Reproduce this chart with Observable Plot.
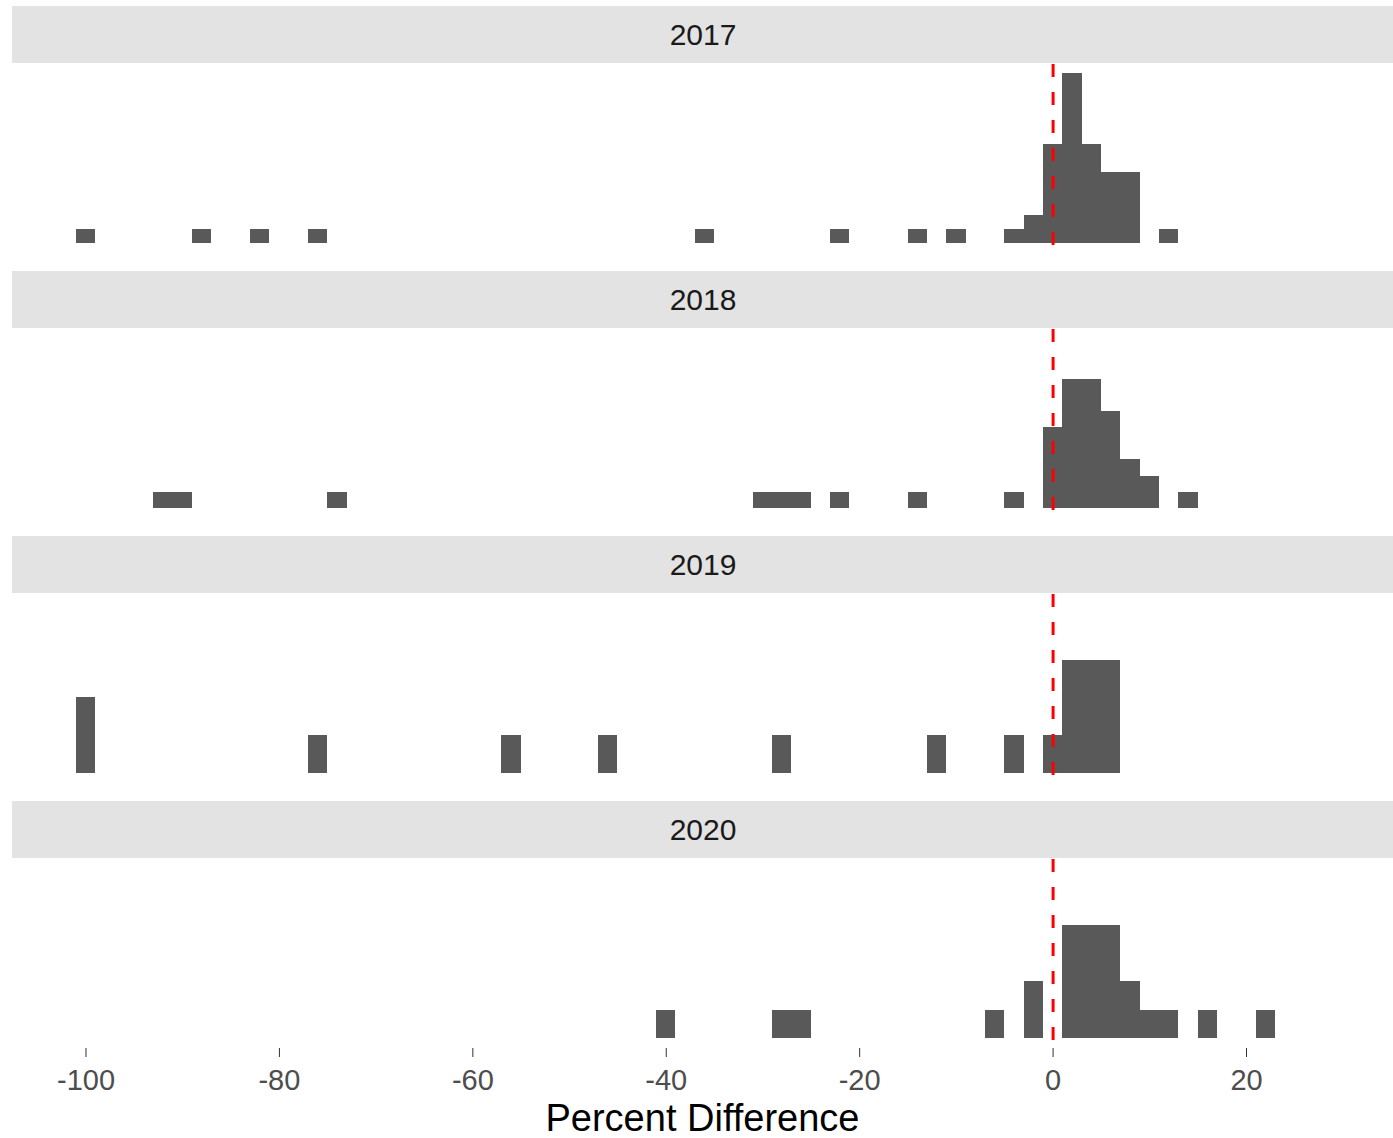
<!DOCTYPE html>
<html>
<head>
<meta charset="utf-8">
<script src="https://cdn.jsdelivr.net/npm/d3@7"></script>
<script src="https://cdn.jsdelivr.net/npm/@observablehq/plot@0.6"></script>
<style>
  html, body { margin: 0; padding: 0; background: #fff; }
  #title { width: 1381px; padding-left: 12px; text-align: center; font-family: 'Liberation Sans', Arial, sans-serif; font-size: 38px; line-height: 47px; color: #000; }
</style>
</head>
<body>
<div id="chart"></div>
<div id="title">Percent Difference</div>
<script>
const years = [2017, 2018, 2019, 2020];
const binWidth = 2;
const xTicks = [-100, -80, -60, -40, -20, 0, 20];

const bins2017 = [-100, -88, -82, -76, -36, -22, -14, -10, -4, -2, 0, 2, 4, 6, 8, 12];
const counts2017 = [1, 1, 1, 1, 1, 1, 1, 1, 1, 2, 7, 12, 7, 5, 5, 1];

const bins2018 = [-92, -90, -74, -30, -28, -26, -22, -14, -4, 0, 2, 4, 6, 8, 10, 14];
const counts2018 = [1, 1, 1, 1, 1, 1, 1, 1, 1, 5, 8, 8, 6, 3, 2, 1];

const bins2019 = [-100, -76, -56, -46, -28, -12, -4, 0, 2, 4, 6];
const counts2019 = [2, 1, 1, 1, 1, 1, 1, 1, 3, 3, 3];

const bins2020 = [-40, -28, -26, -6, -2, 2, 4, 6, 8, 10, 12, 16, 22];
const counts2020 = [1, 1, 1, 1, 2, 4, 4, 4, 2, 1, 1, 1, 1];

const series = [
  [2017, bins2017, counts2017],
  [2018, bins2018, counts2018],
  [2019, bins2019, counts2019],
  [2020, bins2020, counts2020]
];

const rows = [];
for (const [year, bins, counts] of series) {
  const n = d3.sum(counts);
  bins.forEach((b, i) => {
    rows.push({year, x1: b - binWidth / 2, x2: b + binWidth / 2, density: counts[i] / (n * binWidth)});
  });
}
const M = d3.max(rows, d => d.density);

const chart = Plot.plot({
  width: 1393,
  height: 1095,
  marginLeft: 12,
  marginRight: 0,
  marginTop: 5,
  marginBottom: 45,
  style: {fontFamily: "'Liberation Sans', Arial, sans-serif", background: "white", overflow: "visible"},
  x: {domain: [-107.6, 35.2]},
  y: {domain: [-0.06 * M, 1.055 * M], axis: null, insetTop: 58},
  fy: {domain: years, axis: null, paddingInner: 0.067, paddingOuter: 0, label: null},
  marks: [
    Plot.rect(years, {fy: d => d, fill: "#e3e3e3", insetBottom: 190}),
    Plot.text(years, {fy: d => d, text: d => String(d), frameAnchor: "top", lineAnchor: "middle", dy: 29, fontSize: 30, fill: "#1a1a1a"}),
    Plot.rect(rows, {x1: "x1", x2: "x2", y1: () => 0, y2: "density", fy: "year", fill: "#595959", shapeRendering: "crispEdges"}),
    Plot.ruleX([0], {stroke: "red", strokeWidth: 3, strokeDasharray: "13,15", insetTop: 58}),
    Plot.axisX(xTicks, {tickFormat: d => String(d), tickSize: 9, tickPadding: 12, fontSize: 29, stroke: "#333333", fill: "#4d4d4d", label: null, facetAnchor: "bottom"})
  ]
});
document.getElementById("chart").appendChild(chart);
</script>
</body>
</html>
